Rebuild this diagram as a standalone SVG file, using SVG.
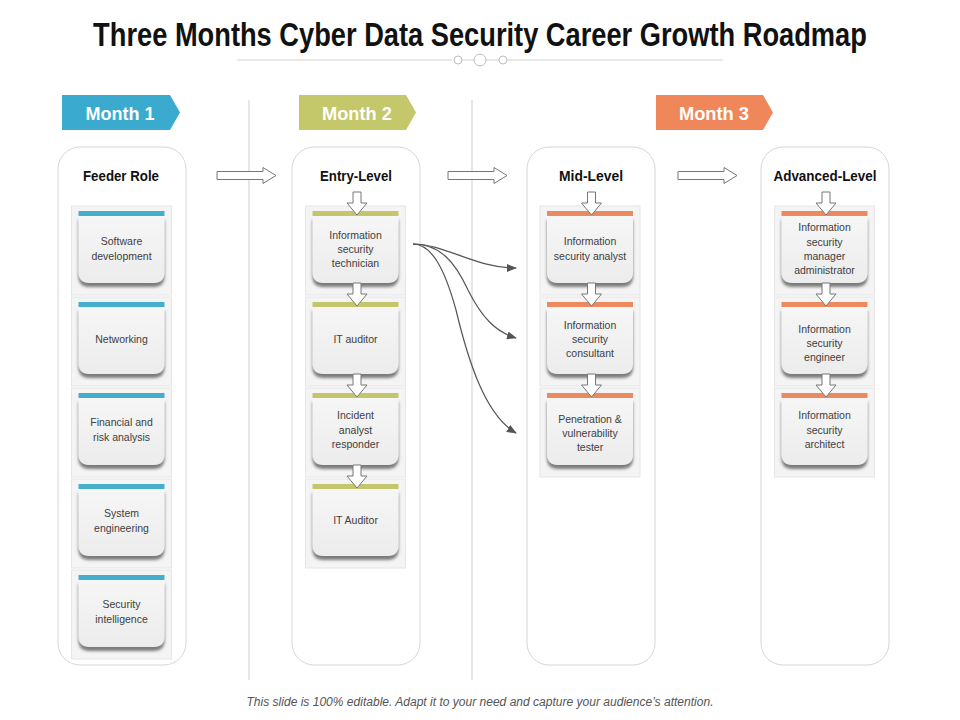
<svg xmlns="http://www.w3.org/2000/svg" xmlns:xlink="http://www.w3.org/1999/xlink" width="960" height="720" viewBox="0 0 960 720">
<defs>
<style>
.title{font-family:"Liberation Sans",Arial,sans-serif;font-weight:bold;font-size:34px;fill:#111;}
.month{font-family:"Liberation Sans",Arial,sans-serif;font-weight:bold;font-size:19px;fill:#fff;}
.head{font-family:"Liberation Sans",Arial,sans-serif;font-weight:bold;font-size:14px;fill:#111;}
.txt{font-family:"Liberation Sans",Arial,sans-serif;font-size:10.5px;fill:#404040;text-anchor:middle;}
.foot{font-family:"Liberation Sans",Arial,sans-serif;font-style:italic;font-size:12px;fill:#555;}
.col{fill:#fff;stroke:#d6d6d6;stroke-width:1;}
.vline{stroke:#cfcfcf;stroke-width:1;}
.outer{fill:#f4f4f4;stroke:#e6e6e6;stroke-width:1;}
.body{filter:url(#sh);}
.b1{fill:#45aecd;}
.b2{fill:#c4c66c;}
.b3{fill:#ec8a5f;}
.blk{fill:#fff;stroke:#777;stroke-width:1;}
.curve{fill:none;stroke:#555;stroke-width:1.2;marker-end:url(#ah);}
</style>
<filter id="sh" x="-20%" y="-20%" width="140%" height="150%">
<feDropShadow dx="0" dy="4" stdDeviation="1.8" flood-color="#6e6e6e" flood-opacity="0.9"/>
</filter>
<linearGradient id="bg" x1="0" y1="0" x2="0" y2="1">
<stop offset="0" stop-color="#f6f6f6"/>
<stop offset="1" stop-color="#ececec"/>
</linearGradient>
<marker id="ah" markerWidth="10" markerHeight="8" refX="9" refY="4" orient="auto" markerUnits="userSpaceOnUse">
<path d="M0,0 L10,4 L0,8 Z" fill="#555"/>
</marker>
<g id="card">
<rect class="outer" x="-50" y="0" width="100" height="89"/>
<path class="body" d="M-43,10 H43 V66 Q43,77 32,77 H-32 Q-43,77 -43,66 Z" fill="url(#bg)"/>
</g>
</defs>
<rect x="0" y="0" width="960" height="720" fill="#fff"/>

<g id="title">
<text class="title" transform="translate(480,46) scale(0.802,1)" x="0" y="0" text-anchor="middle">Three Months Cyber Data Security Career Growth Roadmap</text>
<line x1="237" y1="60" x2="452" y2="60" stroke="#d0d0d0"/>
<line x1="462" y1="60" x2="474" y2="60" stroke="#d0d0d0"/>
<line x1="486" y1="60" x2="499" y2="60" stroke="#d0d0d0"/>
<line x1="507" y1="60" x2="723" y2="60" stroke="#d0d0d0"/>
<circle cx="458" cy="60" r="4" fill="#fff" stroke="#bdbdbd"/>
<circle cx="480" cy="60" r="6" fill="#fff" stroke="#bdbdbd"/>
<circle cx="503" cy="60" r="4" fill="#fff" stroke="#bdbdbd"/>
</g>

<g id="dividers">
<line class="vline" x1="249" y1="100" x2="249" y2="680"/>
<line class="vline" x1="472" y1="100" x2="472" y2="680"/>
</g>

<g id="month1">
<path d="M62,95 H170 L180,112.5 L170,130 H62 Z" fill="#3aabcf"/>
<text class="month" x="120" y="120" text-anchor="middle" textLength="69" lengthAdjust="spacingAndGlyphs">Month 1</text>
</g>
<g id="month2">
<path d="M299,95 H406 L416,112.5 L406,130 H299 Z" fill="#c4c76a"/>
<text class="month" x="357" y="120" text-anchor="middle" textLength="70" lengthAdjust="spacingAndGlyphs">Month 2</text>
</g>
<g id="month3">
<path d="M656,95 H763 L773,112.5 L763,130 H656 Z" fill="#f0875a"/>
<text class="month" x="714" y="120" text-anchor="middle" textLength="70" lengthAdjust="spacingAndGlyphs">Month 3</text>
</g>

<g id="col-feeder">
<rect class="col" x="58" y="147" width="128" height="518" rx="22"/>
<text class="head" x="121" y="181" text-anchor="middle" textLength="76" lengthAdjust="spacingAndGlyphs">Feeder Role</text>
</g>
<g id="col-entry">
<rect class="col" x="292" y="147" width="128" height="518" rx="22"/>
<text class="head" x="356" y="181" text-anchor="middle" textLength="72" lengthAdjust="spacingAndGlyphs">Entry-Level</text>
</g>
<g id="col-mid">
<rect class="col" x="527" y="147" width="128" height="518" rx="22"/>
<text class="head" x="591" y="181" text-anchor="middle" textLength="64" lengthAdjust="spacingAndGlyphs">Mid-Level</text>
</g>
<g id="col-adv">
<rect class="col" x="761" y="147" width="128" height="518" rx="22"/>
<text class="head" x="825" y="181" text-anchor="middle" textLength="103" lengthAdjust="spacingAndGlyphs">Advanced-Level</text>
</g>

<!-- Column 1 cards -->
<g id="software-development" transform="translate(121.5,206)">
<use xlink:href="#card"/><rect class="b1" x="-43" y="5" width="86" height="5"/>
<text class="txt" x="0" y="39">Software</text><text class="txt" x="0" y="54">development</text>
</g>
<g id="networking" transform="translate(121.5,297)">
<use xlink:href="#card"/><rect class="b1" x="-43" y="5" width="86" height="5"/>
<text class="txt" x="0" y="46">Networking</text>
</g>
<g id="financial-risk" transform="translate(121.5,388)">
<use xlink:href="#card"/><rect class="b1" x="-43" y="5" width="86" height="5"/>
<text class="txt" x="0" y="38">Financial and</text><text class="txt" x="0" y="53">risk analysis</text>
</g>
<g id="system-engineering" transform="translate(121.5,479)">
<use xlink:href="#card"/><rect class="b1" x="-43" y="5" width="86" height="5"/>
<text class="txt" x="0" y="38">System</text><text class="txt" x="0" y="53">engineering</text>
</g>
<g id="security-intelligence" transform="translate(121.5,570)">
<use xlink:href="#card"/><rect class="b1" x="-43" y="5" width="86" height="5"/>
<text class="txt" x="0" y="38">Security</text><text class="txt" x="0" y="53">intelligence</text>
</g>

<!-- Column 2 cards -->
<g id="is-technician" transform="translate(355.5,206)">
<use xlink:href="#card"/><rect class="b2" x="-43" y="5" width="86" height="5"/>
<text class="txt" x="0" y="33">Information</text><text class="txt" x="0" y="47">security</text><text class="txt" x="0" y="61">technician</text>
</g>
<g id="it-auditor" transform="translate(355.5,297)">
<use xlink:href="#card"/><rect class="b2" x="-43" y="5" width="86" height="5"/>
<text class="txt" x="0" y="46">IT auditor</text>
</g>
<g id="incident-responder" transform="translate(355.5,388)">
<use xlink:href="#card"/><rect class="b2" x="-43" y="5" width="86" height="5"/>
<text class="txt" x="0" y="31">Incident</text><text class="txt" x="0" y="46">analyst</text><text class="txt" x="0" y="60">responder</text>
</g>
<g id="it-auditor-2" transform="translate(355.5,479)">
<use xlink:href="#card"/><rect class="b2" x="-43" y="5" width="86" height="5"/>
<text class="txt" x="0" y="45">IT Auditor</text>
</g>

<!-- Column 3 cards -->
<g id="is-analyst" transform="translate(590,206)">
<use xlink:href="#card"/><rect class="b3" x="-43" y="5" width="86" height="5"/>
<text class="txt" x="0" y="39">Information</text><text class="txt" x="0" y="54">security  analyst</text>
</g>
<g id="is-consultant" transform="translate(590,297)">
<use xlink:href="#card"/><rect class="b3" x="-43" y="5" width="86" height="5"/>
<text class="txt" x="0" y="32">Information</text><text class="txt" x="0" y="46">security</text><text class="txt" x="0" y="60">consultant</text>
</g>
<g id="pen-tester" transform="translate(590,388)">
<use xlink:href="#card"/><rect class="b3" x="-43" y="5" width="86" height="5"/>
<text class="txt" x="0" y="35">Penetration &amp;</text><text class="txt" x="0" y="49">vulnerability</text><text class="txt" x="0" y="63">tester</text>
</g>

<!-- Column 4 cards -->
<g id="is-manager" transform="translate(824.5,206)">
<use xlink:href="#card"/><rect class="b3" x="-43" y="5" width="86" height="5"/>
<text class="txt" x="0" y="25">Information</text><text class="txt" x="0" y="40">security</text><text class="txt" x="0" y="54">manager</text><text class="txt" x="0" y="68">administrator</text>
</g>
<g id="is-engineer" transform="translate(824.5,297)">
<use xlink:href="#card"/><rect class="b3" x="-43" y="5" width="86" height="5"/>
<text class="txt" x="0" y="36">Information</text><text class="txt" x="0" y="50">security</text><text class="txt" x="0" y="64">engineer</text>
</g>
<g id="is-architect" transform="translate(824.5,388)">
<use xlink:href="#card"/><rect class="b3" x="-43" y="5" width="86" height="5"/>
<text class="txt" x="0" y="31">Information</text><text class="txt" x="0" y="46">security</text><text class="txt" x="0" y="60">architect</text>
</g>

<g id="connectors">
<path class="blk" d="M217,171.5 H263 V167.5 L276,175.5 L263,183.5 V179.5 H217 Z"/>
<path class="blk" d="M448,171.5 H494 V167.5 L507,175.5 L494,183.5 V179.5 H448 Z"/>
<path class="blk" d="M678,171.5 H724 V167.5 L737,175.5 L724,183.5 V179.5 H678 Z"/>
<path class="blk" d="M353,192 H361 V203 H367 L357,215 L347,203 H353 Z"/>
<path class="blk" d="M353,283 H361 V294 H367 L357,306 L347,294 H353 Z"/>
<path class="blk" d="M353,374 H361 V385 H367 L357,397 L347,385 H353 Z"/>
<path class="blk" d="M353,465 H361 V476 H367 L357,488 L347,476 H353 Z"/>
<path class="blk" d="M587.5,192 H595.5 V203 H601.5 L591.5,215 L581.5,203 H587.5 Z"/>
<path class="blk" d="M587.5,283 H595.5 V294 H601.5 L591.5,306 L581.5,294 H587.5 Z"/>
<path class="blk" d="M587.5,374 H595.5 V385 H601.5 L591.5,397 L581.5,385 H587.5 Z"/>
<path class="blk" d="M822,192 H830 V203 H836 L826,215 L816,203 H822 Z"/>
<path class="blk" d="M822,283 H830 V294 H836 L826,306 L816,294 H822 Z"/>
<path class="blk" d="M822,374 H830 V385 H836 L826,397 L816,385 H822 Z"/>
<path class="curve" d="M413,244 C445,244 475,268 516,268"/>
<path class="curve" d="M413,244 C440,244 455,262 468,290 C482,318 496,332 516,338"/>
<path class="curve" d="M413,244 C432,244 445,270 456,310 C468,360 485,415 516,433"/>
</g>

<text class="foot" x="480" y="706" text-anchor="middle" textLength="467" lengthAdjust="spacingAndGlyphs">This slide is 100% editable. Adapt it to your need and capture your audience’s attention.</text>
</svg>
